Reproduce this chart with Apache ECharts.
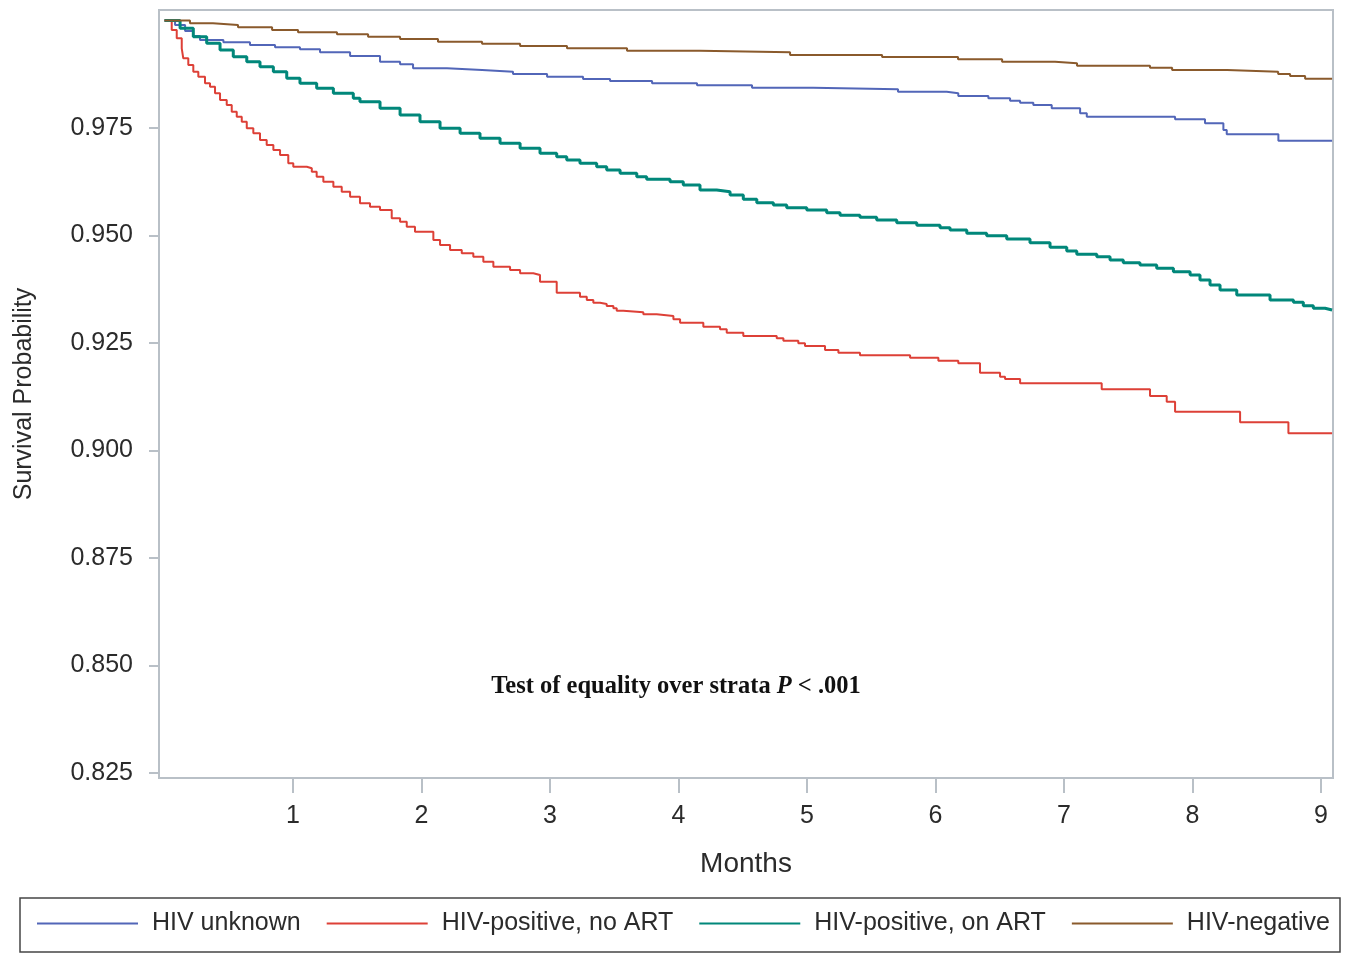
<!DOCTYPE html>
<html>
<head>
<meta charset="utf-8">
<title>Survival by HIV status</title>
<script src="https://cdn.jsdelivr.net/npm/echarts@6/dist/echarts.min.js"></script>
<style>
  html, body { margin: 0; padding: 0; background: #fff; }
  #chart { width: 1348px; height: 960px; }
</style>
</head>
<body>
<div id="chart"></div>
<script>
// Kaplan-Meier steps: [month, survival probability]
const hivUnknown = [
    [0, 1.0], [0.082, 0.99895], [0.160, 0.99756], [0.222, 0.99640], [0.276, 0.99547],
    [0.458, 0.99493], [0.665, 0.99430], [0.860, 0.99377], [1.054, 0.99330], [1.210, 0.99260],
    [1.444, 0.99174], [1.677, 0.99042], [1.833, 0.98981], [1.934, 0.98888], [2.198, 0.98849],
    [2.471, 0.98809], [2.712, 0.98756], [2.977, 0.98693], [3.257, 0.98640], [3.467, 0.98593],
    [3.794, 0.98540], [4.144, 0.98493], [4.572, 0.98437], [5.047, 0.98400], [5.708, 0.98344],
    [6.087, 0.98307], [6.177, 0.98244], [6.411, 0.98191], [6.580, 0.98135], [6.658, 0.98088],
    [6.761, 0.98035], [6.904, 0.97958], [7.125, 0.97842], [7.177, 0.97763], [7.864, 0.97702],
    [8.097, 0.97609], [8.240, 0.97453], [8.266, 0.97353], [8.668, 0.97205], [9.086, 0.97205]
];

const hivPosNoArt = [
    [0, 1.0], [0.056, 0.99779], [0.095, 0.99586], [0.134, 0.99353], [0.146, 0.99121],
    [0.185, 0.98965], [0.224, 0.98809], [0.263, 0.98693], [0.315, 0.98540], [0.354, 0.98461],
    [0.393, 0.98307], [0.432, 0.98151], [0.484, 0.98035], [0.523, 0.97879], [0.562, 0.97763],
    [0.601, 0.97647], [0.640, 0.97493], [0.691, 0.97377], [0.743, 0.97221], [0.795, 0.97105],
    [0.847, 0.96988], [0.899, 0.96872], [0.963, 0.96679], [1.002, 0.96600], [1.107, 0.96563],
    [1.146, 0.96484], [1.184, 0.96368], [1.236, 0.96251], [1.314, 0.96135], [1.379, 0.96019],
    [1.444, 0.95903], [1.521, 0.95749], [1.599, 0.95670], [1.677, 0.95593], [1.768, 0.95400],
    [1.833, 0.95321], [1.885, 0.95205], [1.949, 0.95089], [2.092, 0.94896], [2.144, 0.94779],
    [2.222, 0.94663], [2.313, 0.94586], [2.403, 0.94507], [2.481, 0.94391], [2.559, 0.94275],
    [2.689, 0.94198], [2.767, 0.94120], [2.870, 0.94081], [2.922, 0.93926], [3.052, 0.93670],
    [3.233, 0.93577], [3.286, 0.93500], [3.337, 0.93437], [3.389, 0.93407], [3.441, 0.93360],
    [3.493, 0.93307], [3.519, 0.93251], [3.570, 0.93214], [3.726, 0.93167], [3.830, 0.93128],
    [3.960, 0.93051], [4.012, 0.92972], [4.193, 0.92879], [4.323, 0.92818], [4.375, 0.92739],
    [4.504, 0.92663], [4.764, 0.92609], [4.816, 0.92553], [4.932, 0.92493], [4.984, 0.92430],
    [5.140, 0.92337], [5.244, 0.92274], [5.412, 0.92214], [5.802, 0.92158], [6.022, 0.92089],
    [6.177, 0.92028], [6.346, 0.91810], [6.502, 0.91717], [6.541, 0.91663], [6.658, 0.91563],
    [7.293, 0.91423], [7.669, 0.91268], [7.799, 0.91135], [7.864, 0.90903], [8.370, 0.90656],
    [8.746, 0.90400], [9.086, 0.90400]
];

const hivPosOnArt = [
    [0, 1.0], [0.121, 0.99819], [0.224, 0.99623], [0.328, 0.99470], [0.432, 0.99314],
    [0.535, 0.99158], [0.640, 0.99042], [0.743, 0.98926], [0.847, 0.98809], [0.951, 0.98656],
    [1.054, 0.98540], [1.184, 0.98423], [1.314, 0.98307], [1.469, 0.98191], [1.521, 0.98112],
    [1.677, 0.97958], [1.833, 0.97802], [1.988, 0.97647], [2.144, 0.97493], [2.300, 0.97377],
    [2.455, 0.97260], [2.611, 0.97144], [2.767, 0.97028], [2.922, 0.96912], [3.052, 0.96833],
    [3.130, 0.96756], [3.233, 0.96679], [3.363, 0.96600], [3.441, 0.96523], [3.545, 0.96446],
    [3.675, 0.96367], [3.752, 0.96307], [3.934, 0.96251], [4.037, 0.96174], [4.167, 0.96058],
    [4.297, 0.96018], [4.401, 0.95942], [4.504, 0.95842], [4.609, 0.95763], [4.738, 0.95709],
    [4.842, 0.95646], [4.998, 0.95593], [5.153, 0.95530], [5.257, 0.95470], [5.412, 0.95423],
    [5.542, 0.95361], [5.698, 0.95298], [5.854, 0.95237], [6.035, 0.95181], [6.113, 0.95128],
    [6.243, 0.95051], [6.398, 0.94995], [6.554, 0.94919], [6.735, 0.94833], [6.891, 0.94726],
    [7.021, 0.94640], [7.099, 0.94563], [7.255, 0.94507], [7.358, 0.94430], [7.461, 0.94368],
    [7.591, 0.94314], [7.721, 0.94237], [7.851, 0.94158], [7.981, 0.94082], [8.058, 0.93965],
    [8.136, 0.93849], [8.214, 0.93733], [8.344, 0.93617], [8.603, 0.93500], [8.785, 0.93447],
    [8.862, 0.93368], [8.940, 0.93307], [9.031, 0.93267], [9.086, 0.93267]
];

const hivNegative = [
    [0, 1.0], [0.198, 0.99935], [0.377, 0.99895], [0.572, 0.99842], [0.837, 0.99779],
    [1.039, 0.99726], [1.342, 0.99679], [1.584, 0.99623], [1.833, 0.99570], [2.128, 0.99507],
    [2.471, 0.99460], [2.767, 0.99407], [3.132, 0.99353], [3.599, 0.99298], [4.167, 0.99260],
    [4.868, 0.99198], [5.584, 0.99151], [6.175, 0.99098], [6.518, 0.99042], [6.930, 0.99005],
    [7.101, 0.98949], [7.669, 0.98902], [7.841, 0.98849], [8.269, 0.98809], [8.666, 0.98756],
    [8.759, 0.98709], [8.876, 0.98647], [9.086, 0.98647]
];

const monthTicks = [1, 2, 3, 4, 5, 6, 7, 8, 9];
const survTicks = [0.825, 0.850, 0.875, 0.900, 0.925, 0.950, 0.975];

const seriesNames = ["HIV unknown", "HIV-positive, no ART", "HIV-positive, on ART", "HIV-negative"];
const seriesColors = ["#5266b8", "#dd4037", "#01877a", "#8a5a2c"];
const seriesWidths = [2, 2, 3, 2];
const seriesData = [hivUnknown, hivPosNoArt, hivPosOnArt, hivNegative];

const font = "'Liberation Sans', Arial, Helvetica, sans-serif";
const frameColor = "#b9c0c7";
const textColor = "#2b2b2b";

var chart = echarts.init(document.getElementById("chart"));

var option = {
    animation: false,
    backgroundColor: "#fff",
    grid: {
        left: 159, right: 15, top: 10, bottom: 182,
        show: true,
        borderColor: frameColor,
        borderWidth: 2,
        backgroundColor: "#fff"
    },
    xAxis: {
        type: "value",
        min: -0.043,
        max: 9.093,
        name: "Months",
        nameLocation: "middle",
        nameGap: 72,
        nameTextStyle: { fontFamily: font, fontSize: 28, color: textColor },
        axisLine: { show: true, onZero: false, lineStyle: { color: frameColor, width: 2 } },
        axisTick: { show: true, customValues: monthTicks, length: 15, lineStyle: { color: frameColor, width: 2 } },
        axisLabel: {
            customValues: monthTicks,
            margin: 26,
            fontFamily: font,
            fontSize: 25,
            color: textColor
        },
        splitLine: { show: false }
    },
    yAxis: {
        type: "value",
        min: 0.82384,
        max: 1.00244,
        name: "Survival Probability",
        nameLocation: "middle",
        nameGap: 122,
        nameTextStyle: { fontFamily: font, fontSize: 25, color: textColor },
        axisLine: { show: true, onZero: false, lineStyle: { color: frameColor, width: 2 } },
        axisTick: { show: true, customValues: survTicks, length: 10, lineStyle: { color: frameColor, width: 2 } },
        axisLabel: {
            customValues: survTicks,
            margin: 26,
            fontFamily: font,
            fontSize: 25,
            color: textColor,
            formatter: function (v) { return v.toFixed(3); }
        },
        splitLine: { show: false }
    },
    legend: {
        left: 37,
        top: 911,
        padding: 0,
        itemWidth: 101,
        itemHeight: 2,
        itemGap: 26,
        icon: "rect",
        data: seriesNames,
        textStyle: { fontFamily: font, fontSize: 25, color: textColor, padding: [0, 0, 0, 9] }
    },
    graphic: [
        {
            type: "rect",
            shape: { x: 20, y: 898, width: 1320, height: 54 },
            style: { fill: null, stroke: "#454545", lineWidth: 1.5 }
        },
        {
            type: "text",
            x: 676,
            y: 687,
            style: {
                text: "{a|Test of equality over strata }{b|P}{a| < .001}",
                align: "center",
                verticalAlign: "middle",
                rich: {
                    a: { fontFamily: "'Liberation Serif', 'Times New Roman', serif", fontWeight: "bold", fontSize: 24.5, fill: "#111" },
                    b: { fontFamily: "'Liberation Serif', 'Times New Roman', serif", fontWeight: "bold", fontStyle: "italic", fontSize: 24.5, fill: "#111" }
                }
            }
        }
    ],
    series: seriesNames.map(function (name, i) {
        return {
            name: name,
            type: "line",
            step: "end",
            symbol: "none",
            data: seriesData[i],
            itemStyle: { color: seriesColors[i] },
            lineStyle: { color: seriesColors[i], width: seriesWidths[i] }
        };
    })
};

chart.setOption(option);
</script>
</body>
</html>
